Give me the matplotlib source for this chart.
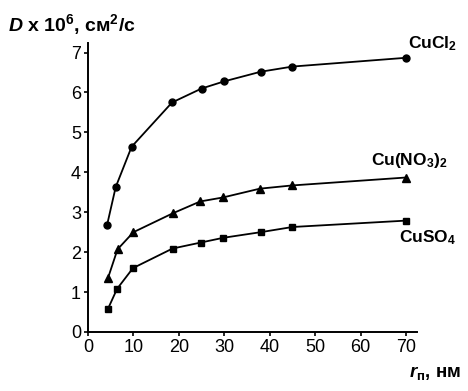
import matplotlib
matplotlib.use('Agg')
import matplotlib.pyplot as plt

plt.rcParams['font.family'] = ['Liberation Sans', 'DejaVu Sans']
plt.rcParams['mathtext.fontset'] = 'custom'
plt.rcParams['mathtext.rm'] = 'Liberation Sans:bold'
plt.rcParams['mathtext.it'] = 'Liberation Sans:bold:italic'
plt.rcParams['mathtext.bf'] = 'Liberation Sans:bold'

# radius, nm
r_cucl2 = [4.2, 6.1, 9.6, 18.5, 25, 30, 38, 45, 70]
d_cucl2 = [2.68, 3.63, 4.64, 5.75, 6.1, 6.28, 6.52, 6.65, 6.87]
r_cuno3 = [4.4, 6.5, 10, 18.6, 24.7, 29.7, 37.8, 44.8, 70]
d_cuno3 = [1.35, 2.07, 2.5, 2.97, 3.27, 3.37, 3.59, 3.67, 3.87]
r_cuso4 = [4.4, 6.4, 9.9, 18.6, 24.8, 29.8, 38, 45, 70]
d_cuso4 = [0.58, 1.08, 1.6, 2.09, 2.24, 2.36, 2.5, 2.63, 2.79]

xticks = [0, 10, 20, 30, 40, 50, 60, 70]
yticks = [0, 1, 2, 3, 4, 5, 6, 7]

fig = plt.figure(figsize=(4.68, 3.91), dpi=100)
ax = fig.add_axes([0.188, 0.151, 0.703, 0.739])

ax.plot(r_cucl2, d_cucl2, '-o', color='black', lw=1.3, ms=5)
ax.plot(r_cuno3, d_cuno3, '-^', color='black', lw=1.3, ms=5.5)
ax.plot(r_cuso4, d_cuso4, '-s', color='black', lw=1.3, ms=4.5)

ax.set_xlim(0, 72.4)
ax.set_ylim(0, 7.24)
ax.set_xticks(xticks)
ax.set_yticks(yticks)
ax.tick_params(direction='out', length=3, width=1.2, labelsize=13, pad=2)
for s in ['top', 'right']:
    ax.spines[s].set_visible(False)
for s in ['left', 'bottom']:
    ax.spines[s].set_linewidth(1.4)

# curve labels
ax.text(70.5, 7.0, 'CuCl$_2$', fontsize=12.5, fontweight='bold', ha='left', va='bottom')
ax.text(62.3, 4.05, 'Cu(NO$_3$)$_2$', fontsize=12.5, fontweight='bold', ha='left', va='bottom')
ax.text(68.5, 2.6, 'CuSO$_4$', fontsize=12.5, fontweight='bold', ha='left', va='top')

# axis titles
fig.text(0.017, 0.92, r'$\mathit{D}$ x 10$^6$, см$^2$/с', fontsize=14, fontweight='bold',
         ha='left', va='baseline')
fig.text(0.985, 0.035, r'$\mathit{r}_\mathrm{п}$, нм', fontsize=13.5, fontweight='bold',
         ha='right', va='baseline')

fig.savefig('out.png', dpi=100)
